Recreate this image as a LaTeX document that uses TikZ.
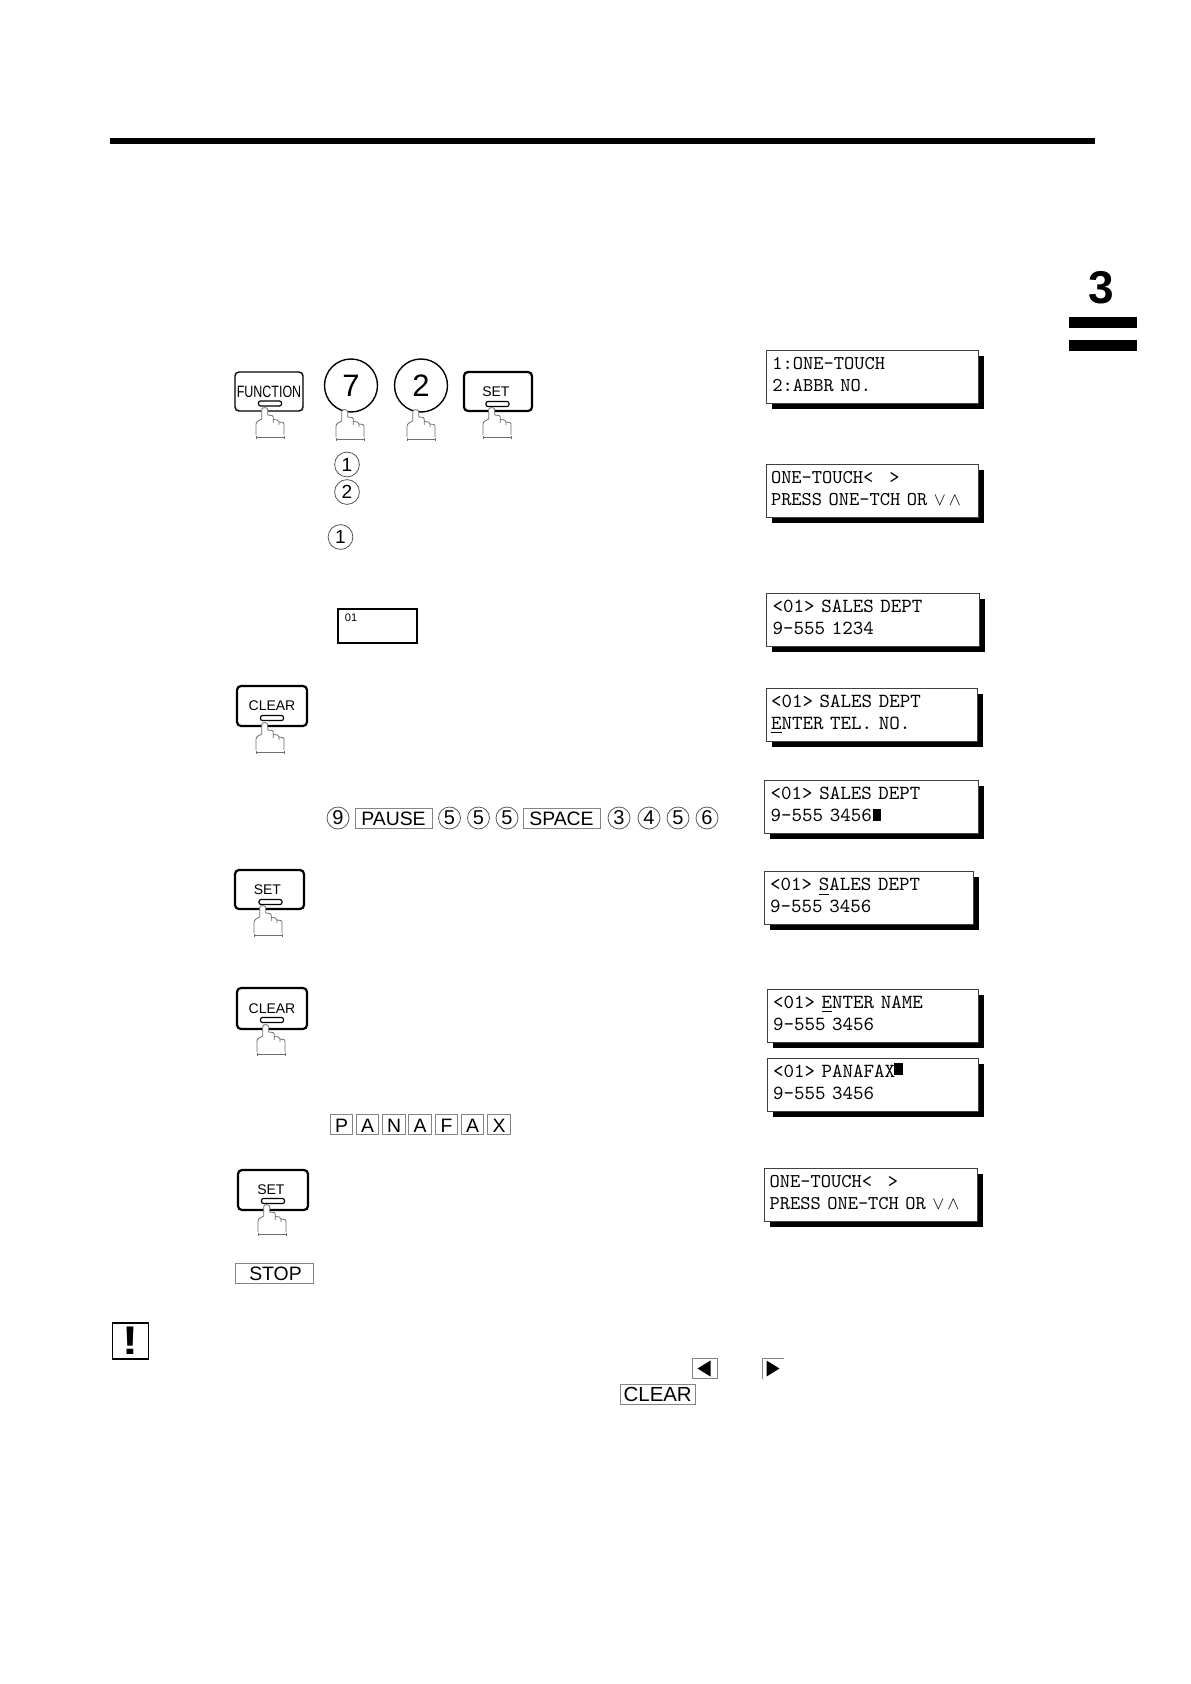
\documentclass[tikz,border=0pt]{standalone}
\usepackage{fontspec}
\setmainfont{Liberation Sans}
\usetikzlibrary{shadows}
\definecolor{ink}{HTML}{000000}
\definecolor{keyline}{HTML}{858585}
\definecolor{handline}{HTML}{6E6E6E}
\tikzset{
  rulebar/.style={fill=ink, draw=none, inner sep=0pt},
  btnkey/.style={
    draw=ink,
    rounded corners=2pt,
    line width=0.7pt,
    fill=white,
    minimum width=34pt,
    minimum height=19.5pt,
    inner sep=0pt,
    font=\fontsize{7}{8}\selectfont
  },
  thickkey/.style={btnkey, line width=1.1pt},
  btnslot/.style={
    draw=ink,
    rounded corners=1pt,
    line width=0.6pt,
    fill=white,
    minimum width=11.5pt,
    minimum height=2.5pt,
    inner sep=0pt
  },
  numkey/.style={
    circle, draw=ink, line width=0.7pt, fill=white,
    minimum size=26.5pt, inner sep=0pt,
    font=\fontsize{15.5}{16}\selectfont
  },
  smalldigit/.style={
    circle, draw=black!65, line width=0.4pt,
    minimum size=12.4pt, inner sep=0pt,
    font=\fontsize{9.5}{10}\selectfont
  },
  rowdigit/.style={smalldigit, minimum size=11pt, font=\fontsize{10}{10}\selectfont},
  keybox/.style={
    draw=keyline, line width=0.5pt, fill=white,
    inner sep=0pt,
    minimum height=10pt,
    text height=7.6pt,
    font=\fontsize{9.7}{10}\selectfont
  },
  letterbox/.style={keybox, minimum width=11.2pt},
  lcdbox/.style={
    draw=black!75,
    line width=0.6pt,
    fill=white,
    anchor=north west,
    align=left,
    inner xsep=3.5pt,
    inner ysep=0pt,
    minimum height=26.5pt,
    font=\fontsize{10}{10.9}\selectfont\ttfamily,
    drop shadow={shadow xshift=2.8pt, shadow yshift=-2.8pt, fill=ink, opacity=1},
    execute at end node={\rule[-2.5pt]{0pt}{2.5pt}}
  },
  smalllcd/.style={lcdbox, font=\fontsize{9.75}{10.9}\selectfont\ttfamily},
  cursorblock/.style={fill=ink, draw=none, inner sep=0pt},
  handicon/.pic={
    \fill[white] (-8,27) -- (-8,16) -- (-2.3,11) -- (-2.3,1.5) -- (0.7,-0.5) -- (3.7,1.5)
      -- (3.7,7) -- (9.3,9) -- (15,14) -- (20,16) -- (20,27) -- cycle;
    \draw[draw=handline, line width=0.4pt]
      (-8,27) -- (-8,16) .. controls (-8,14) and (-5,12) .. (-2.3,11) -- (-2.3,1.5)
      .. controls (-2.3,-1) and (3.7,-1) .. (3.7,1.5) -- (3.7,7) -- (8,7.5) -- (9.3,9) -- (9.3,15)
      (9.3,11.5) -- (13.5,12) -- (15,14) -- (15,17)
      (15,14) -- (19,14.5) -- (20,16) -- (20,27);
    \draw[draw=handline, line width=0.4pt] (-8,28) -- (-8,31) (-8,29.5) -- (20,29.5) (20,28) -- (20,31);
  }
}
\newcommand{\updown}{\scalebox{0.9}{$\vee\,\wedge$}}
\begin{document}
\begin{tikzpicture}[x=0.5pt,y=-0.5pt]
  \useasboundingbox (0,0) rectangle (1190,1684);

  % page rule and chapter mark
  \node[rulebar, anchor=north west, minimum width=492.5pt, minimum height=3.2pt] (toprule) at (110,137.5) {};
  \node[font=\fontsize{23}{24}\selectfont\bfseries, inner sep=0pt] (chapternum) at (1101,288) {3};
  \node[rulebar, anchor=north west, minimum width=34pt, minimum height=5.5pt] (chapterbara) at (1069,317) {};
  \node[rulebar, anchor=north west, minimum width=34pt, minimum height=5.5pt] (chapterbarb) at (1069,339.5) {};

  % key sequence, first row
  \node[btnkey] (functionkey) at (269,391.5) {\scalebox{0.76}[1]{\fontsize{8.2}{9}\selectfont FUNCTION}};
  \node[btnslot] (functionslot) at (270,403.5) {};
  \pic at (264,408) {handicon};
  \node[numkey] (sevenkey) at (351,385.5) {7};
  \pic at (344,410) {handicon};
  \node[numkey] (twokey) at (421,385.5) {2};
  \pic at (415,410) {handicon};
  \node[thickkey] (setkeya) at (498,391.5) {SET\hspace*{2.1pt}};
  \node[btnslot] (setslota) at (497.5,404) {};
  \pic at (491,408) {handicon};

  \node[smalldigit] (onetouchone) at (347,464.5) {1};
  \node[smalldigit] (abbrtwo) at (347,492) {2};
  \node[smalldigit] (selectone) at (340.5,537) {1};

  \node[draw=ink, line width=0.7pt, minimum width=39.5pt, minimum height=17pt, inner sep=0pt] (stationkey) at (377.5,626) {};
  \node[font=\fontsize{5.5}{6}\selectfont, inner sep=0pt] (stationlabel) at (351,617.5) {01};

  % clear, number entry, set
  \node[thickkey, minimum width=35pt, minimum height=20pt] (clearkeya) at (272,706) {CLEAR};
  \node[btnslot] (clearslota) at (272,718) {};
  \pic at (264,723) {handicon};

  \node[rowdigit] (rowdnine) at (338,818) {9};
  \node[keybox, minimum width=38.5pt] (pausekey) at (393.5,818) {PAUSE};
  \node[rowdigit] (rowdfivea) at (449.5,818) {5};
  \node[rowdigit] (rowdfiveb) at (478.5,818) {5};
  \node[rowdigit] (rowdfivec) at (507,818) {5};
  \node[keybox, minimum width=38.5pt] (spacekey) at (561.5,818) {SPACE};
  \node[rowdigit] (rowdthree) at (619,818) {3};
  \node[rowdigit] (rowdfour) at (649,818) {4};
  \node[rowdigit] (rowdfived) at (678,818) {5};
  \node[rowdigit] (rowdsix) at (707,818) {6};

  \node[thickkey, minimum width=34.5pt] (setkeyb) at (269.5,889.5) {SET\hspace*{2.1pt}};
  \node[btnslot] (setslotb) at (270.5,902) {};
  \pic at (262,906) {handicon};

  \node[thickkey, minimum width=35pt, minimum height=20.5pt] (clearkeyb) at (272,1008.5) {CLEAR};
  \node[btnslot] (clearslotb) at (272,1020) {};
  \pic at (265,1025) {handicon};

  \node[letterbox] (letterp) at (341.5,1124.5) {P};
  \node[letterbox] (lettera) at (367.5,1124.5) {A};
  \node[letterbox] (lettern) at (394,1124.5) {N};
  \node[letterbox] (letterb) at (420,1124.5) {A};
  \node[letterbox] (letterf) at (446.5,1124.5) {F};
  \node[letterbox] (letterc) at (472.5,1124.5) {A};
  \node[letterbox] (letterx) at (499,1124.5) {X};

  \node[thickkey, minimum width=35pt, minimum height=20pt] (setkeyc) at (273,1190) {SET\hspace*{2.1pt}};
  \node[btnslot] (setslotc) at (273,1201) {};
  \pic at (266,1205) {handicon};

  \node[keybox, minimum width=39.2pt] (stopkey) at (274.5,1273) {\hspace*{1pt}STOP};

  % note marker and inline keys
  \node[draw=ink, line width=0.8pt, minimum width=18pt, minimum height=18pt, inner sep=0pt, font=\fontsize{20}{20}\selectfont\bfseries] (notemark) at (130.5,1341) {\scalebox{1.2}[1]{!}};
  \node[keybox, minimum width=12.5pt] (leftkey) at (704.5,1368.5) {};
  \fill[ink] (leftkey.center) ++(-7,0) -- ++(13,-8) -- ++(0,16) -- cycle;
  \node[inner sep=0pt, minimum width=10.5pt, minimum height=10pt] (rightkey) at (773.5,1368.5) {};
  \draw[draw=keyline, line width=0.5pt] (rightkey.north east) -- (rightkey.north west) -- (rightkey.south west);
  \fill[ink] (rightkey.center) ++(6,0) -- ++(-13,-8) -- ++(0,16) -- cycle;
  \node[keybox, minimum width=37.7pt, font=\fontsize{10.2}{10}\selectfont] (clearinline) at (657.7,1394) {CLEAR};

  % display panels
  \node[smalllcd, minimum width=106pt, text width=100.2pt, inner xsep=2.9pt] (lcdmenu) at (766,350) {1:ONE-TOUCH\\2:ABBR NO.};
  \node[smalllcd, minimum width=106pt, text width=101.6pt, inner xsep=2.2pt] (lcdpress) at (766,464) {ONE-TOUCH<\ \ \hspace{1.5pt}>\\PRESS ONE-TCH OR \updown};
  \node[lcdbox, minimum width=106.5pt, text width=100.5pt, inner xsep=3pt] (lcdsales) at (766,593) {<01> SALES DEPT\\9-555 1234};
  \node[lcdbox, minimum width=105.5pt, text width=101.1pt, inner xsep=2.2pt] (lcdenter) at (766,688) {<01> SALES DEPT\\\underline{E}NTER TEL. NO.};
  \node[lcdbox, minimum width=107pt, text width=101pt, inner xsep=3pt] (lcdnumber) at (764,780) {<01> SALES DEPT\\9-555 3456};
  \node[cursorblock, minimum width=4pt, minimum height=6pt] (cursornumber) at (877,815) {};
  \node[lcdbox, minimum width=104.5pt, text width=98.9pt, inner xsep=2.8pt] (lcdstored) at (764,871) {<01> \underline{S}ALES DEPT\\9-555 3456};
  \node[lcdbox, minimum width=105.5pt, text width=100.1pt, inner xsep=2.7pt] (lcdname) at (767,989) {<01> \underline{E}NTER NAME\\9-555 3456};
  \node[lcdbox, minimum width=105.5pt, text width=100.1pt, inner xsep=2.7pt] (lcdpanafax) at (767,1058) {<01> PANAFAX\\9-555 3456};
  \node[cursorblock, minimum width=4.5pt, minimum height=6pt] (cursorpanafax) at (898.5,1069) {};
  \node[smalllcd, minimum width=106.5pt, text width=101.5pt, inner xsep=2.5pt] (lcdreturn) at (764,1168) {ONE-TOUCH<\ \ \hspace{1.5pt}>\\PRESS ONE-TCH OR \updown};
\end{tikzpicture}
\end{document}
